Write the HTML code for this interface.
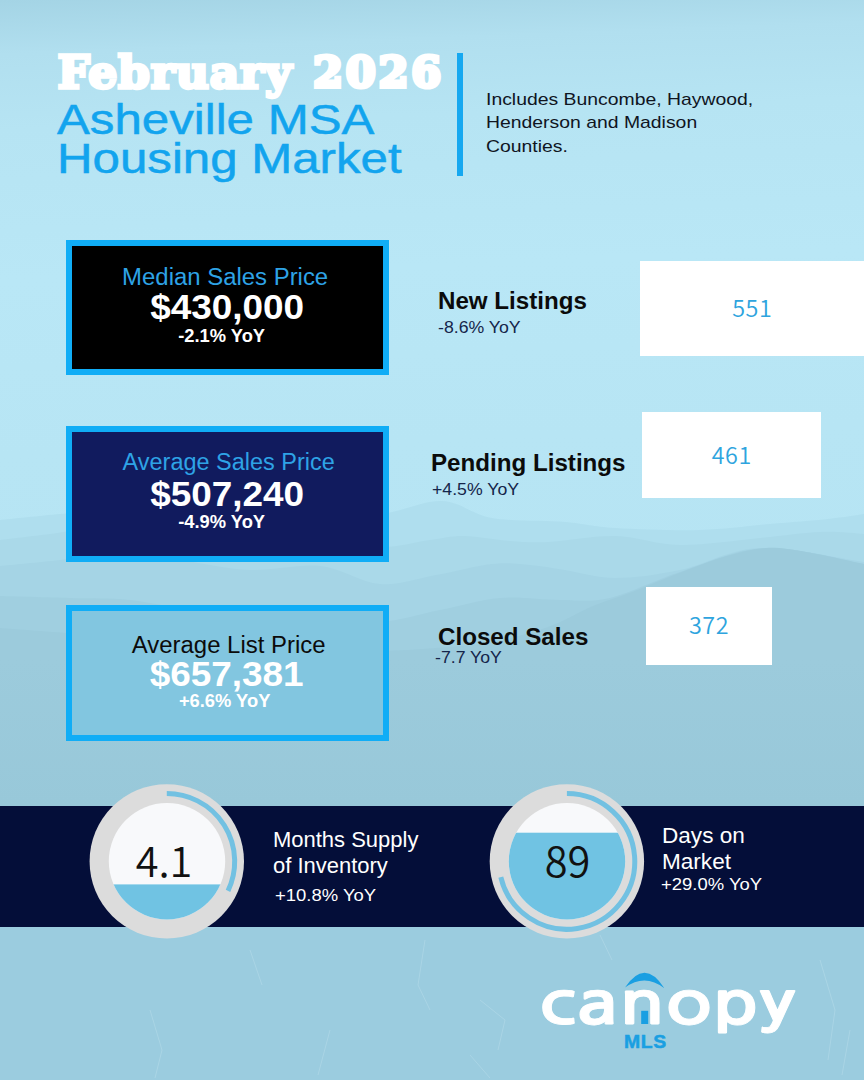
<!DOCTYPE html>
<html lang="en">
<head>
<meta charset="utf-8">
<title>February 2026 Asheville MSA Housing Market</title>
<style>
*{margin:0;padding:0;box-sizing:border-box}
html,body{width:864px;height:1080px;overflow:hidden;background:#b4e1f1}
body{position:relative;font-family:"Liberation Sans",sans-serif;color:#111}
#bg{position:absolute;left:0;top:0;width:864px;height:1080px}
.abs{position:absolute;white-space:nowrap;transform-origin:0 0}
.title{left:58px;top:42px;font-family:"DejaVu Serif","Liberation Serif",serif;font-weight:bold;font-size:43px;line-height:60px;color:#fff;letter-spacing:2.8px;-webkit-text-stroke:4px #fff}
.title.t1{left:57.5px;top:41.5px;font-size:45.5px;letter-spacing:0.9px;-webkit-text-stroke-width:3.4px}.title.t2{left:313px}
.sub{left:57px;color:#12a4ee;-webkit-text-stroke:0.5px #12a4ee;font-size:42.5px;line-height:40px;transform:scaleX(1.158)}
.vbar{position:absolute;left:457px;top:53px;width:6px;height:123px;background:#16a8f0}
.inc{left:486px;top:88px;font-size:17px;line-height:23.4px;color:#10151f;transform:scaleX(1.14)}
.box{position:absolute;left:65.5px;width:323.3px;height:135.5px;border:6px solid #10adf6;text-align:center}
.box div{position:absolute;left:-20px;right:-20px;transform:scaleX(1.04)}
.box .l{font-size:23px;line-height:26px}
.box .v{font-size:35.5px;line-height:40px;font-weight:bold;color:#fff}
.box .y{font-size:19.2px;line-height:20px;font-weight:bold;color:#fff;transform:scaleX(0.955)}
.rl{font-weight:bold;font-size:23px;line-height:28px;color:#0b0b0b;transform:scaleX(1.05)}
.ry{font-size:17px;line-height:20px;color:#15254a;transform:scaleX(1.04)}
.wb{position:absolute;background:#fff;text-align:center;color:#2ea4de;font-family:"Noto Sans CJK JP","DejaVu Sans",sans-serif;font-weight:350;font-size:23.3px;letter-spacing:0.6px;text-indent:0.6px}
.band{position:absolute;left:0;top:805.5px;width:864px;height:121px;background:#040e39}
.bt{color:#fff;font-size:21.6px;line-height:26.3px}
.by{color:#fff;font-size:16.8px;line-height:20px;transform:scaleX(1.1)}
.num{font-family:"Noto Sans CJK JP","DejaVu Sans",sans-serif;font-weight:350;color:#111;font-size:41.5px;line-height:50px}
</style>
</head>
<body>
<svg id="bg" viewBox="0 0 864 1080">
<defs>
<linearGradient id="sky" gradientUnits="userSpaceOnUse" x1="0" y1="0" x2="40" y2="1080">
<stop offset="0" stop-color="#a4d4e5"/>
<stop offset="0.05" stop-color="#b1dfef"/>
<stop offset="0.12" stop-color="#b6e4f3"/>
<stop offset="0.26" stop-color="#b9e7f6"/>
<stop offset="0.42" stop-color="#b7e5f4"/>
<stop offset="1" stop-color="#b3e1f1"/>
</linearGradient>
<linearGradient id="low" gradientUnits="userSpaceOnUse" x1="0" y1="660" x2="0" y2="806">
<stop offset="0" stop-color="#9ccbdc"/>
<stop offset="1" stop-color="#98c8d9"/>
</linearGradient>
</defs>
<rect width="864" height="1080" fill="url(#sky)"/>
<path d="M0 520 C10.0 519.0 41.7 515.7 60 514 C78.3 512.3 93.3 509.7 110 510 C126.7 510.3 142.5 515.3 160 516 C177.5 516.7 196.7 515.5 215 514 C233.3 512.5 252.5 507.7 270 507 C287.5 506.3 301.7 508.8 320 510 C338.3 511.2 359.7 515.5 380 514 C400.3 512.5 423.3 500.3 442 501 C460.7 501.7 471.5 514.5 492 518 C512.5 521.5 544.5 520.3 565 522 C585.5 523.7 592.5 526.7 615 528 C637.5 529.3 674.2 530.7 700 530 C725.8 529.3 748.7 525.8 770 524 C791.3 522.2 812.3 520.7 828 519 C843.7 517.3 858.0 514.8 864 514 V830 H0Z" fill="#afdeee"/>
<path d="M0 540 C8.3 539.0 33.3 536.0 50 534 C66.7 532.0 81.7 527.7 100 528 C118.3 528.3 138.3 534.0 160 536 C181.7 538.0 206.7 541.0 230 540 C253.3 539.0 281.7 531.0 300 530 C318.3 529.0 326.7 531.2 340 534 C353.3 536.8 365.0 546.0 380 547 C395.0 548.0 416.0 541.8 430 540 C444.0 538.2 450.7 535.8 464 536 C477.3 536.2 496.0 540.0 510 541 C524.0 542.0 530.5 542.8 548 542 C565.5 541.2 593.0 535.5 615 536 C637.0 536.5 655.8 544.7 680 545 C704.2 545.3 736.7 540.2 760 538 C783.3 535.8 802.7 532.7 820 532 C837.3 531.3 856.7 533.7 864 534 V830 H0Z" fill="#aad9e9"/>
<path d="M0 566 C10.0 565.0 40.0 562.3 60 560 C80.0 557.7 100.0 552.0 120 552 C140.0 552.0 158.3 557.0 180 560 C201.7 563.0 226.7 569.0 250 570 C273.3 571.0 298.3 563.7 320 566 C341.7 568.3 360.7 582.5 380 584 C399.3 585.5 417.3 578.3 436 575 C454.7 571.7 476.3 565.7 492 564 C507.7 562.3 517.8 564.0 530 565 C542.2 566.0 550.8 567.8 565 570 C579.2 572.2 595.8 578.0 615 578 C634.2 578.0 655.8 575.0 680 570 C704.2 565.0 729.3 549.3 760 548 C790.7 546.7 846.7 559.7 864 562 V830 H0Z" fill="#a5d4e5"/>
<path d="M0 596 C11.7 596.3 48.3 597.3 70 598 C91.7 598.7 108.3 597.7 130 600 C151.7 602.3 176.7 608.7 200 612 C223.3 615.3 248.3 619.3 270 620 C291.7 620.7 311.7 615.7 330 616 C348.3 616.3 361.7 623.0 380 622 C398.3 621.0 420.0 614.0 440 610 C460.0 606.0 480.0 599.7 500 598 C520.0 596.3 541.7 600.0 560 600 C578.3 600.0 590.0 602.7 610 598 C630.0 593.3 654.0 580.3 680 572 C706.0 563.7 735.3 549.3 766 548 C796.7 546.7 847.7 561.3 864 564 V830 H0Z" fill="#a0cfe0"/>
<path d="M0 628 C13.3 629.0 53.3 632.0 80 634 C106.7 636.0 133.3 638.0 160 640 C186.7 642.0 213.3 644.3 240 646 C266.7 647.7 296.7 649.2 320 650 C343.3 650.8 360.7 651.3 380 651 C399.3 650.7 417.3 649.5 436 648 C454.7 646.5 473.3 645.5 492 642 C510.7 638.5 531.2 633.0 548 627 C564.8 621.0 579.0 611.8 593 606 C607.0 600.2 617.2 597.7 632 592 C646.8 586.3 666.2 578.0 682 572 C697.8 566.0 713.0 560.0 727 556 C741.0 552.0 752.8 548.7 766 548 C779.2 547.3 789.7 549.3 806 552 C822.3 554.7 854.3 562.0 864 564 V830 H0Z" fill="#9ccbdc"/>
<rect x="0" y="660" width="864" height="150" fill="url(#low)"/>
<rect x="0" y="926" width="864" height="154" fill="#9bccdf"/>
<g stroke="#d6eef7" stroke-width="1" fill="none" opacity="0.25">
<path d="M425 940 L418 985 L430 1010"/><path d="M600 935 L612 960"/><path d="M850 1030 L842 1075"/>
<path d="M150 1010 L162 1050 L155 1078"/><path d="M330 1030 L318 1075"/><path d="M470 1055 L490 1078"/><path d="M820 960 L835 1010 L828 1060"/>
<path d="M250 950 L262 985"/><path d="M480 1000 L505 1020 L498 1050"/>
</g>
</svg>

<div class="abs title t1">February</div>
<div class="abs title t2">2026</div>
<div class="abs sub" style="top:99.5px">Asheville MSA</div>
<div class="abs sub" style="top:138.5px">Housing Market</div>
<div class="vbar"></div>
<div class="abs inc">Includes Buncombe, Haywood,<br>Henderson and Madison<br>Counties.</div>

<div class="box" style="top:239.5px;background:#000">
 <div class="l" style="top:18px;margin-left:-5px;color:#2ea3e6">Median Sales Price</div>
 <div class="v" style="top:41px;margin-left:-1px">$430,000</div>
 <div class="y" style="top:80.5px;margin-left:-12px">-2.1% YoY</div>
</div>
<div class="box" style="top:426px;background:#111b5e">
 <div class="l" style="top:16.5px;margin-left:2px;color:#2ea3e6;transform:scaleX(1.02)">Average Sales Price</div>
 <div class="v" style="top:42.3px;margin-left:-1px">$507,240</div>
 <div class="y" style="top:80.4px;margin-left:-12px">-4.9% YoY</div>
</div>
<div class="box" style="top:605.3px;background:#82c6e0">
 <div class="l" style="top:21px;margin-left:2px;color:#0b0b0b">Average List Price</div>
 <div class="v" style="top:42.5px;margin-left:-2px">$657,381</div>
 <div class="y" style="top:79.5px;margin-left:-6px">+6.6% YoY</div>
</div>

<div class="abs rl" style="left:437.5px;top:286.5px">New Listings</div>
<div class="abs ry" style="left:438px;top:317.7px">-8.6% YoY</div>
<div class="abs rl" style="left:430.5px;top:449px">Pending Listings</div>
<div class="abs ry" style="left:432px;top:480px">+4.5% YoY</div>
<div class="abs rl" style="left:438px;top:622.5px">Closed Sales</div>
<div class="abs ry" style="left:435px;top:648px">-7.7 YoY</div>

<div class="wb" style="left:640px;top:260.5px;width:224px;height:95.5px;line-height:93px">551</div>
<div class="wb" style="left:642px;top:412px;width:179px;height:86px;line-height:84px">461</div>
<div class="wb" style="left:646px;top:587px;width:125.5px;height:77.5px;line-height:75px">372</div>

<div class="band"></div>
<div class="abs bt" style="left:272.5px;top:826.5px;transform:scaleX(1.018)">Months Supply<br>of Inventory</div>
<div class="abs by" style="left:274.5px;top:885.5px">+10.8% YoY</div>
<div class="abs bt" style="left:662.3px;top:822.5px;transform:scaleX(1.045)">Days on<br>Market</div>
<div class="abs by" style="left:661px;top:875.3px">+29.0% YoY</div>

<svg style="position:absolute;left:80px;top:775px" width="180" height="180" viewBox="80 775 180 180">
 <circle cx="166.8" cy="861.4" r="77.2" fill="#dcdcdc"/>
 <clipPath id="c1"><circle cx="167" cy="861.2" r="58.2"/></clipPath>
 <circle cx="167" cy="861.2" r="58.2" fill="#f8f9fb"/>
 <rect x="100" y="884.4" width="140" height="50" fill="#70c3e3" clip-path="url(#c1)"/>
 <path d="M166.8 793.5 A67.9 67.9 0 0 1 228 890.8" fill="none" stroke="#72c1e2" stroke-width="5"/>
</svg>
<div class="abs num" style="left:104px;top:833.5px;width:120px;text-align:center">4.1</div>

<svg style="position:absolute;left:480px;top:775px" width="180" height="180" viewBox="480 775 180 180">
 <circle cx="566.9" cy="861.4" r="77.2" fill="#dcdcdc"/>
 <clipPath id="c2"><circle cx="567" cy="861.2" r="58.2"/></clipPath>
 <circle cx="567" cy="861.2" r="58.2" fill="#f8f9fb"/>
 <rect x="500" y="832.7" width="140" height="100" fill="#70c3e3" clip-path="url(#c2)"/>
 <path d="M566.9 793.5 A67.9 67.9 0 1 1 500.8 877.1" fill="none" stroke="#72c1e2" stroke-width="5"/>
</svg>
<div class="abs num" style="left:507.5px;top:833.7px;width:120px;text-align:center">89</div>

<div class="abs" id="logo" style="left:539px;top:963.6px;font-family:'NanumGothic','DejaVu Sans',sans-serif;font-weight:700;font-size:59px;line-height:80px;color:#fff;-webkit-text-stroke:0.8px #fff;letter-spacing:0.3px;transform:scaleX(1.3)">canopy</div>
<svg style="position:absolute;left:615px;top:968px" width="60" height="60" viewBox="615 968 60 60">
 <path d="M625 987.6 Q644.7 957.5 664.4 988.2 Q644.7 973 625 987.6Z" fill="#1a9fe2"/>
 <rect x="641.2" y="1010.8" width="7" height="13.2" fill="#1a9fe2"/>
</svg>
<div class="abs" id="mls" style="left:624px;top:1031.6px;font-weight:bold;font-size:17.6px;line-height:20px;color:#1a9fe2;letter-spacing:0.6px;-webkit-text-stroke:0.5px #1a9fe2;transform:scaleX(1.1)">MLS</div>

</body>
</html>
